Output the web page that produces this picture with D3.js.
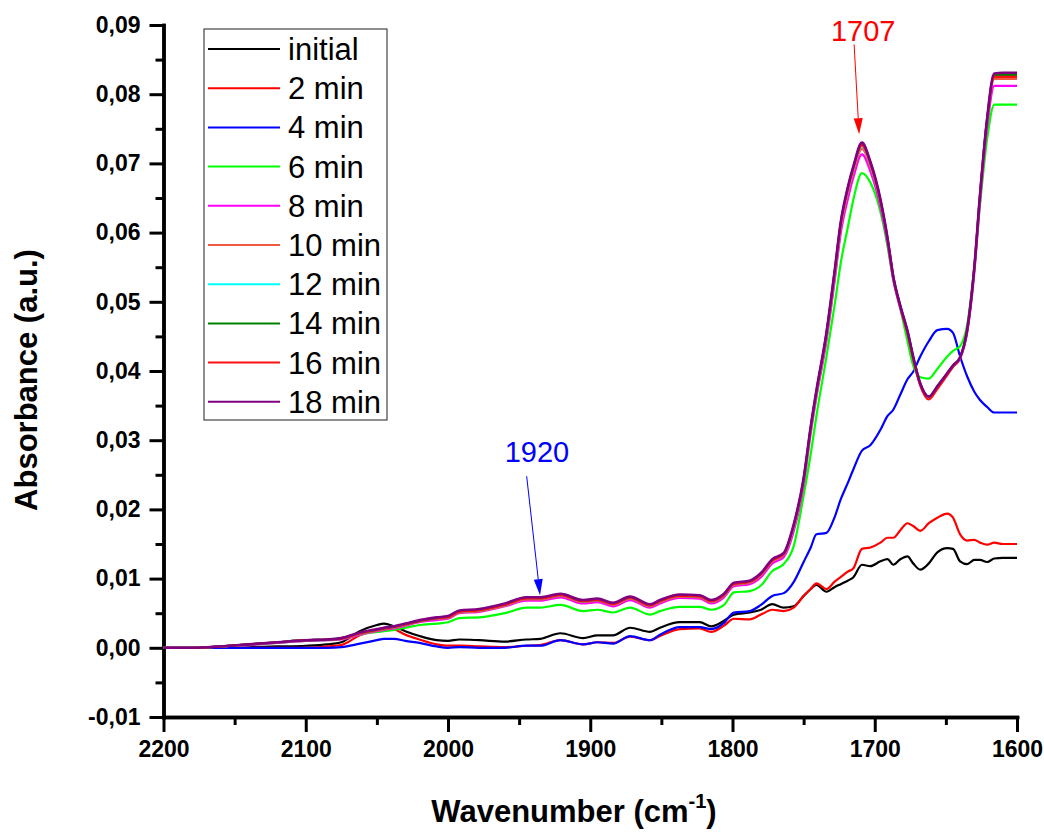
<!DOCTYPE html>
<html>
<head>
<meta charset="utf-8">
<script src="https://cdn.jsdelivr.net/npm/d3@7"></script>
<style>
    body { margin: 0; background: #fff; }
    #chart { width: 1044px; height: 833px; }
    text { font-family: "Liberation Sans", Arial, sans-serif; }
</style>
</head>
<body>
<div id="chart"></div>
<script>

// wavenumber grid (cm-1), shared by all spectra
const wavenumbers = [2200, 2180, 2160, 2140, 2120, 2100, 2085, 2075, 2062, 2050,
    2045, 2038, 2030, 2020, 2008, 2000, 1992, 1978, 1960, 1945,
    1935, 1921, 1905, 1895, 1884, 1872, 1858, 1851, 1837, 1823,
    1815, 1806, 1799, 1788, 1780, 1772, 1764, 1757, 1750, 1745,
    1741, 1734, 1728, 1724, 1719, 1715, 1709, 1703, 1696, 1691,
    1687, 1682, 1677, 1673, 1668, 1662, 1656, 1649, 1645, 1640,
    1635, 1630, 1626, 1621, 1616, 1610, 1600];

const initial = [0, 0, 0, 0.0001, 0.0002, 0.0003, 0.0005, 0.0008, 0.0024, 0.0033,
    0.0035, 0.0031, 0.0024, 0.0017, 0.0011, 0.001, 0.0012, 0.0011, 0.0009, 0.0012,
    0.0013, 0.0021, 0.0014, 0.0018, 0.0018, 0.0029, 0.0023, 0.0029, 0.0037, 0.0037,
    0.0031, 0.0039, 0.0048, 0.0051, 0.0055, 0.0063, 0.0058, 0.006, 0.0075, 0.0085,
    0.0091, 0.0081, 0.0088, 0.0092, 0.0097, 0.0102, 0.012, 0.0118, 0.0125, 0.0128,
    0.012, 0.0128, 0.0132, 0.0122, 0.0113, 0.0122, 0.0138, 0.0144, 0.0143, 0.0125,
    0.0121, 0.0127, 0.0127, 0.0124, 0.0129, 0.013, 0.013];

const min2 = [0, 0, 0, 0, 0, 0, 0.0002, 0.0004, 0.0018, 0.0026,
    0.0029, 0.0027, 0.0019, 0.0012, 0.0005, 0.0003, 0.0003, 0.0002, 0.0001, 0.0003,
    0.0004, 0.0011, 0.0005, 0.0008, 0.0007, 0.0016, 0.0011, 0.0017, 0.0027, 0.0028,
    0.0023, 0.0032, 0.0042, 0.0041, 0.0048, 0.0055, 0.0053, 0.0058, 0.0075, 0.0085,
    0.0093, 0.0085, 0.0096, 0.0102, 0.011, 0.0115, 0.0143, 0.0145, 0.0152, 0.0159,
    0.0159, 0.017, 0.018, 0.0176, 0.0169, 0.018, 0.0188, 0.0194, 0.0188, 0.0164,
    0.0155, 0.0156, 0.0152, 0.0149, 0.0152, 0.015, 0.015];

const min4 = [0, 0, 0, 0, 0, 0, 0, 0.0001, 0.0006, 0.0011,
    0.0013, 0.0013, 0.001, 0.0007, 0.0002, 0, 0.0001, 0, 0, 0.0003,
    0.0003, 0.0011, 0.0005, 0.0008, 0.0006, 0.0017, 0.0011, 0.0019, 0.003, 0.003,
    0.0027, 0.0036, 0.0051, 0.0053, 0.0062, 0.0075, 0.0079, 0.0095, 0.0124, 0.0145,
    0.0164, 0.0166, 0.019, 0.0214, 0.0238, 0.0258, 0.0285, 0.0293, 0.0315, 0.0335,
    0.0344, 0.0366, 0.0388, 0.0399, 0.0421, 0.0443, 0.0459, 0.0461, 0.0455, 0.0421,
    0.0392, 0.037, 0.0358, 0.0348, 0.034, 0.034, 0.034];

const min6 = [0, 0, 0.0002, 0.0004, 0.0007, 0.001, 0.0011, 0.0013, 0.0019, 0.0023,
    0.0024, 0.0026, 0.0029, 0.0033, 0.0035, 0.0037, 0.0043, 0.0044, 0.005, 0.0058,
    0.0058, 0.0062, 0.0053, 0.0055, 0.0051, 0.0058, 0.0048, 0.0053, 0.0059, 0.0059,
    0.0055, 0.0062, 0.008, 0.0082, 0.009, 0.0111, 0.0121, 0.0147, 0.022, 0.028,
    0.0335, 0.042, 0.0498, 0.0555, 0.0607, 0.0648, 0.0686, 0.0672, 0.063, 0.058,
    0.0532, 0.049, 0.0443, 0.0408, 0.0391, 0.0389, 0.0403, 0.0421, 0.0429, 0.0436,
    0.0467, 0.055, 0.064, 0.0735, 0.0785, 0.0785, 0.0785];

const min8 = [0, 0, 0.0002, 0.0004, 0.0007, 0.001, 0.0011, 0.0012, 0.0019, 0.0024,
    0.0026, 0.0028, 0.0032, 0.0037, 0.004, 0.0042, 0.005, 0.0052, 0.006, 0.0068,
    0.0068, 0.0073, 0.0064, 0.0066, 0.006, 0.0069, 0.0058, 0.0064, 0.0072, 0.0071,
    0.0064, 0.0073, 0.0089, 0.0092, 0.0102, 0.0122, 0.0131, 0.0168, 0.0235, 0.031,
    0.0362, 0.0443, 0.0533, 0.0598, 0.0648, 0.068, 0.0713, 0.0688, 0.0637, 0.0584,
    0.0532, 0.049, 0.0455, 0.0418, 0.038, 0.0362, 0.0377, 0.0396, 0.0406, 0.0418,
    0.0456, 0.0542, 0.0645, 0.0752, 0.0812, 0.0812, 0.0812];

const min10 = [0, 0, 0.0002, 0.0005, 0.0008, 0.0011, 0.0012, 0.0013, 0.002, 0.0025,
    0.0027, 0.0029, 0.0033, 0.0038, 0.0042, 0.0043, 0.0051, 0.0053, 0.0061, 0.007,
    0.007, 0.0075, 0.0066, 0.0068, 0.0062, 0.0071, 0.006, 0.0066, 0.0074, 0.0073,
    0.0066, 0.0075, 0.0091, 0.0094, 0.0105, 0.0125, 0.0134, 0.0173, 0.024, 0.0315,
    0.0367, 0.0449, 0.054, 0.0605, 0.0657, 0.0688, 0.0721, 0.0695, 0.0643, 0.0588,
    0.0535, 0.0493, 0.0457, 0.042, 0.0381, 0.0362, 0.0377, 0.0396, 0.0407, 0.0419,
    0.0458, 0.0547, 0.0652, 0.0761, 0.0822, 0.0822, 0.0822];

const min12 = [0, 0, 0.0002, 0.0005, 0.0008, 0.0011, 0.0012, 0.0013, 0.0021, 0.0026,
    0.0028, 0.003, 0.0034, 0.0039, 0.0043, 0.0044, 0.0052, 0.0054, 0.0062, 0.0071,
    0.0071, 0.0076, 0.0067, 0.0069, 0.0063, 0.0072, 0.0061, 0.0067, 0.0075, 0.0074,
    0.0067, 0.0076, 0.0092, 0.0095, 0.0106, 0.0126, 0.0135, 0.0175, 0.0242, 0.0317,
    0.0369, 0.0452, 0.0544, 0.061, 0.0661, 0.0692, 0.0725, 0.0698, 0.0645, 0.059,
    0.0536, 0.0493, 0.0457, 0.042, 0.0381, 0.0362, 0.0377, 0.0396, 0.0407, 0.0419,
    0.0459, 0.0548, 0.0653, 0.0763, 0.0826, 0.0826, 0.0826];

const min14 = [0, 0, 0.0002, 0.0005, 0.0008, 0.0011, 0.0012, 0.0014, 0.0021, 0.0026,
    0.0028, 0.003, 0.0034, 0.0039, 0.0043, 0.0045, 0.0053, 0.0055, 0.0063, 0.0072,
    0.0072, 0.0077, 0.0068, 0.007, 0.0064, 0.0073, 0.0062, 0.0068, 0.0076, 0.0075,
    0.0068, 0.0077, 0.0093, 0.0096, 0.0107, 0.0127, 0.0136, 0.0177, 0.0244, 0.0319,
    0.0371, 0.0454, 0.0547, 0.0613, 0.0664, 0.0695, 0.0728, 0.0701, 0.0647, 0.0591,
    0.0537, 0.0494, 0.0458, 0.0421, 0.0382, 0.0363, 0.0378, 0.0397, 0.0408, 0.042,
    0.046, 0.055, 0.0655, 0.0765, 0.0828, 0.0828, 0.0828];

const min16 = [0, 0, 0.0002, 0.0005, 0.0008, 0.0011, 0.0012, 0.0013, 0.0021, 0.0026,
    0.0028, 0.003, 0.0034, 0.0039, 0.0043, 0.0044, 0.0052, 0.0054, 0.0062, 0.0071,
    0.0071, 0.0076, 0.0067, 0.0069, 0.0063, 0.0072, 0.0061, 0.0067, 0.0075, 0.0074,
    0.0067, 0.0076, 0.0092, 0.0095, 0.0106, 0.0126, 0.0135, 0.0176, 0.0243, 0.0318,
    0.037, 0.0453, 0.0546, 0.0611, 0.0662, 0.0693, 0.0726, 0.0699, 0.0646, 0.0591,
    0.0536, 0.0492, 0.0455, 0.0418, 0.0379, 0.0359, 0.0374, 0.0394, 0.0406, 0.0419,
    0.0459, 0.0549, 0.0654, 0.0763, 0.0825, 0.0825, 0.0825];

const min18 = [0, 0, 0.0002, 0.0005, 0.0008, 0.0011, 0.0012, 0.0014, 0.0022, 0.0027,
    0.0029, 0.0031, 0.0035, 0.004, 0.0044, 0.0046, 0.0054, 0.0056, 0.0064, 0.0073,
    0.0073, 0.0078, 0.0069, 0.0071, 0.0065, 0.0074, 0.0063, 0.0069, 0.0077, 0.0076,
    0.0069, 0.0078, 0.0094, 0.0097, 0.0108, 0.0128, 0.0137, 0.0178, 0.0245, 0.032,
    0.0372, 0.0455, 0.0548, 0.0614, 0.0665, 0.0696, 0.073, 0.0702, 0.0648, 0.0592,
    0.0537, 0.0494, 0.0458, 0.0421, 0.0382, 0.0363, 0.0378, 0.0397, 0.0408, 0.042,
    0.046, 0.055, 0.0655, 0.0765, 0.083, 0.0831, 0.0831];

const seriesNames = ["initial", "2 min", "4 min", "6 min", "8 min", "10 min", "12 min", "14 min", "16 min", "18 min"];
const seriesValues = [initial, min2, min4, min6, min8, min10, min12, min14, min16, min18];
const seriesColors = ["#000000", "#ff0000", "#0000ff", "#00ff00", "#ff00ff", "#f05a40", "#00ffff", "#008000", "#ff1010", "#800080"];

const xTicks = [2200, 2100, 2000, 1900, 1800, 1700, 1600];
const xMinorTicks = [2150, 2050, 1950, 1850, 1750, 1650];
const yTicks = [-0.01, 0, 0.01, 0.02, 0.03, 0.04, 0.05, 0.06, 0.07, 0.08, 0.09];
const yMinorTicks = [-0.005, 0.005, 0.015, 0.025, 0.035, 0.045, 0.055, 0.065, 0.075, 0.085];

// peak annotations: label, text position, arrow tail and tip in data units
const annotations = [
    {label: "1920", color: "#0000ff", text: [1937.5, 0.0268], from: [1944.7, 0.0248], to: [1935.3, 0.0076]},
    {label: "1707", color: "#ff0000", text: [1708.1, 0.0877], from: [1714.5, 0.0872], to: [1711.0, 0.0742]}
];


class SpectraVis {

    constructor(_parentElement, _names, _values, _colors) {
        this.parentElement = _parentElement;
        this.names = _names;
        this.values = _values;
        this.colors = _colors;
        this.displayData = [];

        this.initVis();
    }

    initVis() {
        let vis = this;

        vis.margin = {top: 25, right: 27, bottom: 116, left: 163.5};
        vis.width = 1044 - vis.margin.left - vis.margin.right;
        vis.height = 833 - vis.margin.top - vis.margin.bottom;

        vis.svg = d3.select("#" + vis.parentElement).append("svg")
            .attr("width", 1044)
            .attr("height", 833)
            .append("g")
            .attr("transform", "translate(" + vis.margin.left + "," + vis.margin.top + ")");

        vis.x = d3.scaleLinear().domain([2200, 1600]).range([0, vis.width]);
        vis.y = d3.scaleLinear().domain([-0.01, 0.09]).range([vis.height, 0]);

        let locale = d3.formatLocale({decimal: ",", thousands: ".", grouping: [3], currency: ["", ""], minus: "-"});
        vis.yFormat = locale.format(".2f");

        // minor ticks first, major axes on top
        vis.svg.append("g")
            .attr("class", "axis minor")
            .call(d3.axisLeft(vis.y).tickValues(yMinorTicks).tickSize(8).tickSizeOuter(0).tickFormat(""));
        vis.svg.append("g")
            .attr("class", "axis minor")
            .attr("transform", "translate(0," + vis.height + ")")
            .call(d3.axisBottom(vis.x).tickValues(xMinorTicks).tickSize(8).tickSizeOuter(0).tickFormat(""));

        vis.yAxis = d3.axisLeft(vis.y).tickValues(yTicks).tickSize(14).tickSizeOuter(0).tickPadding(9).tickFormat(vis.yFormat);
        vis.xAxis = d3.axisBottom(vis.x).tickValues(xTicks).tickSize(15).tickSizeOuter(0).tickPadding(9).tickFormat(d3.format("d"));

        vis.svg.append("g").attr("class", "y-axis axis").call(vis.yAxis);
        vis.svg.append("g").attr("class", "x-axis axis")
            .attr("transform", "translate(0," + vis.height + ")")
            .call(vis.xAxis);

        vis.svg.selectAll(".axis path.domain").attr("stroke", "#000").attr("stroke-width", 3.5).attr("stroke-linecap", "square");
        vis.svg.selectAll(".axis .tick line").attr("stroke", "#000").attr("stroke-width", 3);
        vis.svg.selectAll(".axis .tick text")
            .attr("fill", "#000")
            .style("font-size", "23px")
            .style("font-weight", "bold")
            .style("font-family", "'Liberation Sans', Arial, sans-serif");

        // axis titles
        vis.svg.append("text")
            .attr("transform", "translate(" + (37 - vis.margin.left) + "," + (380 - vis.margin.top) + ") rotate(-90)")
            .attr("text-anchor", "middle")
            .style("font-size", "31px")
            .style("font-weight", "bold")
            .text("Absorbance (a.u.)");

        let xt = vis.svg.append("text")
            .attr("x", 574 - vis.margin.left)
            .attr("y", 822 - vis.margin.top)
            .attr("text-anchor", "middle")
            .style("font-size", "31px")
            .style("font-weight", "bold");
        xt.append("tspan").text("Wavenumber (cm");
        xt.append("tspan").attr("dy", -14).style("font-size", "20px").text("-1");
        xt.append("tspan").attr("dy", 14).text(")");

        vis.line = d3.line()
            .x(d => vis.x(d.w))
            .y(d => vis.y(d.v))
            .curve(d3.curveMonotoneX);

        vis.wrangleData();
    }

    wrangleData() {
        let vis = this;

        vis.displayData = vis.names.map((name, i) => ({
            name: name,
            color: vis.colors[i],
            points: wavenumbers.map((w, j) => ({w: w, v: vis.values[i][j]}))
        }));

        vis.updateVis();
    }

    updateVis() {
        let vis = this;

        vis.svg.selectAll(".spectrum")
            .data(vis.displayData)
            .enter().append("path")
            .attr("class", "spectrum")
            .attr("fill", "none")
            .attr("stroke", d => d.color)
            .attr("stroke-width", (d, i) => i === vis.displayData.length - 1 ? 2.6 : 2.2)
            .attr("stroke-linejoin", "round")
            .attr("d", d => vis.line(d.points));

        // legend box
        let lg = vis.svg.append("g")
            .attr("transform", "translate(" + (204 - vis.margin.left) + "," + (29 - vis.margin.top) + ")");
        lg.append("rect")
            .attr("width", 183).attr("height", 391)
            .attr("fill", "#fff").attr("stroke", "#444").attr("stroke-width", 1.2);

        let rows = lg.selectAll(".legend-row")
            .data(vis.displayData)
            .enter().append("g")
            .attr("class", "legend-row")
            .attr("transform", (d, i) => "translate(0," + (20 + i * 39.2) + ")");
        rows.append("line")
            .attr("x1", 4).attr("x2", 76)
            .attr("stroke", d => d.color).attr("stroke-width", 2);
        rows.append("text")
            .attr("x", 84).attr("y", 11)
            .style("font-size", "31px")
            .attr("fill", "#000")
            .text(d => d.name);

        // peak markers
        annotations.forEach(a => {
            vis.svg.append("text")
                .attr("x", vis.x(a.text[0]))
                .attr("y", vis.y(a.text[1]))
                .attr("text-anchor", "middle")
                .attr("fill", a.color)
                .style("font-size", "29px")
                .text(a.label);

            let x1 = vis.x(a.from[0]), y1 = vis.y(a.from[1]);
            let x2 = vis.x(a.to[0]), y2 = vis.y(a.to[1]);
            let len = Math.hypot(x2 - x1, y2 - y1);
            let ux = (x2 - x1) / len, uy = (y2 - y1) / len;
            let hl = 16, hw = 4.5;
            let bx = x2 - ux * hl, by = y2 - uy * hl;

            vis.svg.append("line")
                .attr("x1", x1).attr("y1", y1).attr("x2", bx).attr("y2", by)
                .attr("stroke", a.color).attr("stroke-width", 1);
            vis.svg.append("path")
                .attr("d", "M" + x2 + "," + y2 + "L" + (bx - uy * hw) + "," + (by + ux * hw) + "L" + (bx + uy * hw) + "," + (by - ux * hw) + "Z")
                .attr("fill", a.color);
        });
    }
}

let spectraVis = new SpectraVis("chart", seriesNames, seriesValues, seriesColors);

</script>
</body>
</html>
